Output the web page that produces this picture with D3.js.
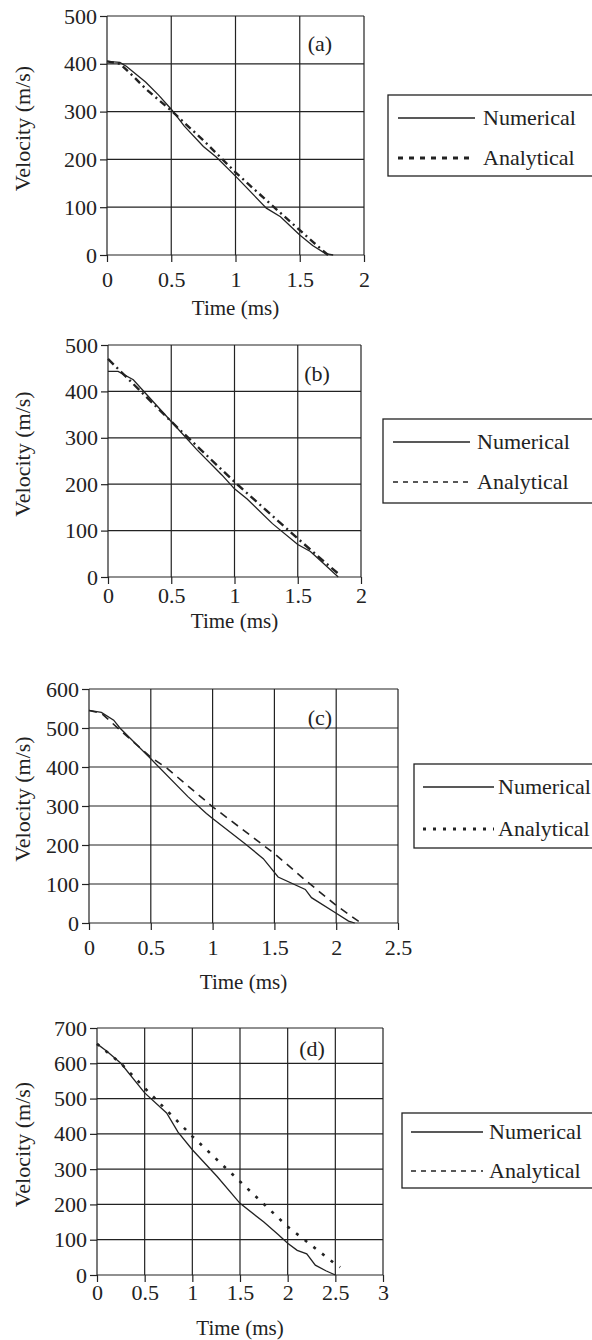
<!DOCTYPE html>
<html>
<head>
<meta charset="utf-8">
<script src="https://cdn.jsdelivr.net/npm/d3@7"></script>
<style>
    body { margin: 0; background: #fff; }
    svg { display: block; font-family: "Liberation Serif", "Times New Roman", serif; }
    .tick text { font-size: 22px; fill: #222; font-family: "Liberation Serif", "Times New Roman", serif; }
    .tick line { stroke: #222; stroke-width: 1.2; }
</style>
</head>
<body>
<svg id="chart" width="592" height="1340"></svg>
<script>
// series and labels
const seriesNames = ['Numerical', 'Analytical'];
const panelLabels = ['(a)', '(b)', '(c)', '(d)'];
const xTitle = 'Time (ms)';
const yTitle = 'Velocity (m/s)';

// tick values
const xTicksA = [0, 0.5, 1, 1.5, 2];
const yTicksA = [0, 100, 200, 300, 400, 500];
const xTicksB = [0, 0.5, 1, 1.5, 2];
const yTicksB = [0, 100, 200, 300, 400, 500];
const xTicksC = [0, 0.5, 1, 1.5, 2, 2.5];
const yTicksC = [0, 100, 200, 300, 400, 500, 600];
const xTicksD = [0, 0.5, 1, 1.5, 2, 2.5, 3];
const yTicksD = [0, 100, 200, 300, 400, 500, 600, 700];

// [time (ms), velocity (m/s)]
const numericalA = [[0, 405], [0.1, 403], [0.15, 395], [0.3, 362], [0.4, 335], [0.5, 305], [0.6, 270],
    [0.75, 227], [0.85, 205], [1.0, 165], [1.24, 98], [1.35, 80], [1.5, 42], [1.6, 20], [1.7, 3], [1.76, 0]];
const analyticalA = [[0, 405], [0.1, 400], [0.2, 375], [0.3, 348], [0.5, 302], [0.75, 240], [1.0, 173],
    [1.25, 112], [1.5, 52], [1.6, 28], [1.72, 0]];

const numericalB = [[0, 443], [0.08, 443], [0.2, 425], [0.3, 395], [0.5, 335], [0.7, 275], [0.9, 220],
    [1.0, 190], [1.1, 168], [1.3, 115], [1.5, 70], [1.6, 55], [1.7, 30], [1.82, 0]];
const analyticalB = [[0, 470], [0.5, 335], [1.0, 205], [1.5, 83], [1.7, 35], [1.83, 5]];

const numericalC = [[0, 545], [0.1, 540], [0.2, 520], [0.25, 500], [0.5, 421], [0.8, 324], [0.95, 281],
    [1.0, 268], [1.26, 204], [1.41, 165], [1.53, 118], [1.75, 86], [1.8, 65], [2.0, 25], [2.1, 5], [2.15, 0]];
const analyticalC = [[0, 545], [0.1, 538], [0.25, 495], [0.5, 425], [0.63, 397], [1.0, 298], [1.5, 178],
    [1.75, 110], [2.0, 45], [2.2, 0]];

const numericalD = [[0, 655], [0.1, 635], [0.25, 600], [0.5, 516], [0.73, 459], [0.85, 405], [1.0, 355],
    [1.26, 279], [1.5, 203], [1.75, 150], [1.9, 115], [2.0, 90], [2.1, 70], [2.2, 60], [2.29, 28],
    [2.4, 12], [2.5, 0]];
const analyticalD = [[0, 655], [0.25, 600], [0.5, 530], [1.0, 393], [1.5, 265], [2.0, 137], [2.5, 31], [2.55, 22]];

const ink = '#222';

// layout of each panel (pixels)
const panels = [
    {
        tag: panelLabels[0], num: numericalA, ana: analyticalA, xTicks: xTicksA, yTicks: yTicksA,
        left: 107, right: 364, top: 16, bottom: 255, labelDy: 25, titleDy: 53, tagPos: [320, 43],
        anaDash: '7,4,2,4', anaWidth: 2.4,
        legend: { x: 388, y: 95, h: 81, l1: 118, l2: 158, lx1: 398, lx2: 475, tx: 483, dash: '5,6', w: 3 },
    },
    {
        tag: panelLabels[1], num: numericalB, ana: analyticalB, xTicks: xTicksB, yTicks: yTicksB,
        left: 108, right: 361, top: 345, bottom: 577, labelDy: 19, titleDy: 44, tagPos: [317, 373],
        anaDash: '8,4,2,4', anaWidth: 2.4,
        legend: { x: 383, y: 419, h: 84, l1: 442, l2: 482, lx1: 393, lx2: 470, tx: 477, dash: '5,5', w: 1.3 },
    },
    {
        tag: panelLabels[2], num: numericalC, ana: analyticalC, xTicks: xTicksC, yTicks: yTicksC,
        left: 89, right: 398, top: 689, bottom: 923, labelDy: 25, titleDy: 59, tagPos: [320, 717],
        anaDash: '8,6', anaWidth: 1.6,
        legend: { x: 414, y: 764, h: 84, l1: 787, l2: 829, lx1: 423, lx2: 494, tx: 498, dash: '3,7', w: 3 },
    },
    {
        tag: panelLabels[3], num: numericalD, ana: analyticalD, xTicks: xTicksD, yTicks: yTicksD,
        left: 97, right: 383, top: 1028, bottom: 1275, labelDy: 18, titleDy: 53, tagPos: [312, 1048],
        anaDash: '3,8', anaWidth: 2.6,
        legend: { x: 402, y: 1113, h: 75, l1: 1132, l2: 1171, lx1: 411, lx2: 483, tx: 489, dash: '5,5', w: 1.3 },
    },
];

const svg = d3.select('#chart');

panels.forEach((p) => drawPanel(p));

function drawPanel(p) {
    const xMax = d3.max(p.xTicks);
    const yMax = d3.max(p.yTicks);
    const x = d3.scaleLinear().domain([0, xMax]).range([p.left, p.right]);
    const y = d3.scaleLinear().domain([0, yMax]).range([p.bottom, p.top]);
    const g = svg.append('g');

    // grid
    g.append('g').selectAll('line').data(p.xTicks).enter().append('line')
        .attr('x1', (d) => x(d)).attr('x2', (d) => x(d))
        .attr('y1', p.top).attr('y2', p.bottom)
        .attr('stroke', ink).attr('stroke-width', 1.2);
    g.append('g').selectAll('line').data(p.yTicks).enter().append('line')
        .attr('x1', p.left).attr('x2', p.right)
        .attr('y1', (d) => y(d)).attr('y2', (d) => y(d))
        .attr('stroke', ink).attr('stroke-width', 1.2);

    // axes
    const tickSize = 7;
    g.append('g')
        .attr('transform', `translate(0,${p.bottom})`)
        .call(d3.axisBottom(x).tickValues(p.xTicks).tickFormat((d) => String(d))
            .tickSize(tickSize).tickPadding(p.labelDy - tickSize - 8.4))
        .call((a) => a.select('.domain').remove());
    g.append('g')
        .attr('transform', `translate(${p.left},0)`)
        .call(d3.axisLeft(y).tickValues(p.yTicks).tickSize(tickSize).tickPadding(3))
        .call((a) => a.select('.domain').remove());

    // titles
    g.append('text')
        .attr('x', (p.left + p.right) / 2).attr('y', p.bottom + p.titleDy).attr('dy', '0.35em')
        .attr('text-anchor', 'middle').attr('font-size', 21).attr('fill', ink)
        .text(xTitle);
    g.append('text')
        .attr('transform', `translate(22,${(p.top + p.bottom) / 2 - 7}) rotate(-90)`)
        .attr('dy', '0.35em').attr('text-anchor', 'middle').attr('font-size', 22).attr('fill', ink)
        .text(yTitle);
    g.append('text')
        .attr('x', p.tagPos[0]).attr('y', p.tagPos[1]).attr('dy', '0.35em')
        .attr('text-anchor', 'middle').attr('font-size', 22).attr('fill', ink)
        .text(p.tag);

    // curves
    const line = d3.line().x((d) => x(d[0])).y((d) => y(d[1]));
    g.append('path').datum(p.ana).attr('d', line)
        .attr('fill', 'none').attr('stroke', ink)
        .attr('stroke-width', p.anaWidth).attr('stroke-dasharray', p.anaDash);
    g.append('path').datum(p.num).attr('d', line)
        .attr('fill', 'none').attr('stroke', ink).attr('stroke-width', 1.3);

    // legend
    const L = p.legend;
    const leg = svg.append('g');
    leg.append('rect')
        .attr('x', L.x).attr('y', L.y).attr('width', 620 - L.x).attr('height', L.h)
        .attr('fill', '#fff').attr('stroke', ink).attr('stroke-width', 1.3);
    [L.l1, L.l2].forEach((ly, i) => {
        leg.append('line')
            .attr('x1', L.lx1).attr('x2', L.lx2).attr('y1', ly).attr('y2', ly)
            .attr('stroke', ink)
            .attr('stroke-width', i === 0 ? 1.3 : L.w)
            .attr('stroke-dasharray', i === 0 ? null : L.dash);
        leg.append('text')
            .attr('x', L.tx).attr('y', ly).attr('dy', '0.32em')
            .attr('font-size', 22).attr('fill', ink)
            .text(seriesNames[i]);
    });
}
</script>
</body>
</html>
